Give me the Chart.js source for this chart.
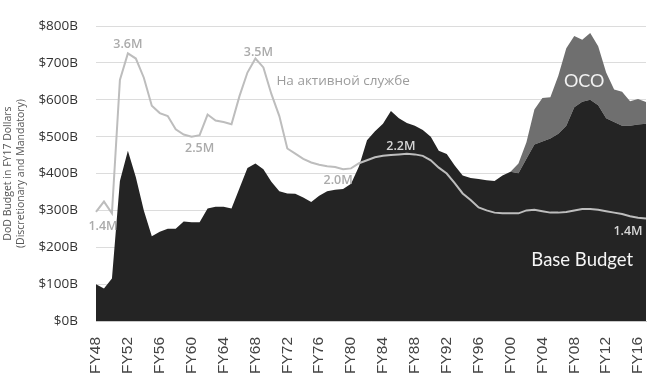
<!DOCTYPE html>
<html>
<head>
<meta charset="utf-8">
<script src="https://cdn.jsdelivr.net/npm/chart.js@4"></script>
<style>
  html, body { margin: 0; padding: 0; background: #fff; }
  #wrap { width: 656px; height: 376px; }
</style>
</head>
<body>
<div id="wrap"><canvas id="budget"></canvas></div>
<script>
// fiscal years FY48 .. FY17
const years = [];
for (let y = 1948; y <= 2017; y++) years.push("FY" + String(y).slice(2));

// DoD budget, $B in FY17 dollars
const baseBudget = [
  100, 88, 115, 380, 462, 390, 300, 230, 242, 250,
  250, 270, 268, 268, 305, 310, 310, 305, 360, 415,
  427, 412, 378, 352, 346, 345, 335, 323, 340, 352,
  356, 358, 372, 420, 490, 515, 535, 570, 550, 537,
  530, 518, 500, 462, 453, 422, 395, 388, 385, 382,
  380, 395, 405, 401, 440, 479, 487, 495, 508, 530,
  580, 595, 600, 585, 550, 540, 530, 530, 533, 535
];
const ocoBudget = [
  0, 0, 0, 0, 0, 0, 0, 0, 0, 0,
  0, 0, 0, 0, 0, 0, 0, 0, 0, 0,
  0, 0, 0, 0, 0, 0, 0, 0, 0, 0,
  0, 0, 0, 0, 0, 0, 0, 0, 0, 0,
  0, 0, 0, 0, 0, 0, 0, 0, 0, 0,
  0, 0, 0, 26, 45, 95, 118, 112, 157, 210,
  193, 168, 181, 160, 124, 88, 92, 66, 69, 59
];
// active duty personnel, millions
const activeDuty = [
  1.48, 1.62, 1.46, 3.27, 3.63, 3.56, 3.30, 2.92, 2.82, 2.78,
  2.60, 2.53, 2.50, 2.52, 2.80, 2.72, 2.70, 2.67, 3.05, 3.37,
  3.56, 3.44, 3.08, 2.78, 2.34, 2.27, 2.20, 2.15, 2.12, 2.10,
  2.09, 2.06, 2.07, 2.14, 2.18, 2.22, 2.24, 2.25, 2.26, 2.27,
  2.26, 2.24, 2.18, 2.08, 2.00, 1.87, 1.73, 1.64, 1.54, 1.50,
  1.47, 1.46, 1.46, 1.46, 1.50, 1.51, 1.49, 1.47, 1.47, 1.48,
  1.50, 1.52, 1.52, 1.51, 1.49, 1.47, 1.45, 1.42, 1.40, 1.39
];

// text notes: [text, year, value, axis, dx, dy, font, colour]
const notes = [
  ["3.6M", "FY52", 3.63, "y2", 0, -9, "600 12.5px 'Open Sans'", "#ababab"],
  ["1.4M", "FY48", 1.48, "y2", 7, 15, "600 12.5px 'Open Sans'", "#ababab"],
  ["2.5M", "FY60", 2.50, "y2", 8, 12, "600 12.5px 'Open Sans'", "#ababab"],
  ["3.5M", "FY68", 3.56, "y2", 3, -6, "600 12.5px 'Open Sans'", "#ababab"],
  ["2.0M", "FY78", 2.09, "y2", 3, 14, "600 12.5px 'Open Sans'", "#ababab"],
  ["2.2M", "FY87", 2.27, "y2", -6, -7, "600 12.5px 'Open Sans'", "#d6d6d6"],
  ["1.4M", "FY17", 1.39, "y2", -18, 13, "600 12.5px 'Open Sans'", "#d6d6d6"],
  ["На активной службе", "FY79", 3.25, "y2", 0, 0, "13.5px 'Liberation Sans Narrow', 'Open Sans'", "#9c9c9c"],
  ["OCO", "FY09", 650, "y", 2, 0, "18px Lato", "#f2f2f2"],
  ["Base Budget", "FY09", 165, "y", 0, 0, "18.5px Lato", "#f5f5f5"]
];

const notesPlugin = {
  id: "notes",
  afterDatasetsDraw(chart) {
    const ctx = chart.ctx;
    const xs = chart.scales.x;
    ctx.save();
    ctx.textAlign = "center";
    ctx.textBaseline = "middle";
    notes.forEach(([text, yr, val, axis, dx, dy, font, color]) => {
      const px = xs.getPixelForValue(years.indexOf(yr));
      const py = chart.scales[axis].getPixelForValue(val);
      ctx.font = font;
      ctx.fillStyle = color;
      ctx.fillText(text, px + dx, py + dy);
    });
    ctx.restore();
  },
};

const ctx = document.getElementById("budget").getContext("2d");

new Chart(ctx, {
  type: "line",
  data: {
    labels: years,
    datasets: [
      {
        label: "Active duty",
        data: activeDuty,
        yAxisID: "y2",
        borderColor: "#bdbdbd",
        borderWidth: 2,
        pointRadius: 0,
        fill: false,
        order: 0,
      },
      {
        label: "Base Budget",
        data: baseBudget,
        yAxisID: "y",
        borderWidth: 0,
        backgroundColor: "#242424",
        pointRadius: 0,
        fill: "origin",
        order: 1,
      },
      {
        label: "OCO",
        data: ocoBudget,
        yAxisID: "y",
        borderWidth: 0,
        backgroundColor: "#6f6f6f",
        pointRadius: 0,
        fill: "-1",
        order: 2,
      },
    ],
  },
  options: {
    responsive: true,
    maintainAspectRatio: false,
    animation: false,
    layout: {
      padding: { top: 14, right: 10, left: 0, bottom: 0 },
    },
    plugins: {
      legend: { display: false },
      tooltip: { enabled: false },
    },
    scales: {
      x: {
        grid: { display: false },
        border: { display: true, color: "#c8c8c8" },
        ticks: {
          autoSkip: false,
          maxRotation: 90,
          minRotation: 90,
          padding: 8,
          color: "#444",
          font: { family: "'Liberation Sans'", size: 15.5 },
          callback: (v, i) => (i % 4 === 0 ? years[i] : ""),
        },
        afterFit: (s) => {
          s.height = 55;
          s.paddingLeft = 0;
          s.paddingRight = 0;
        },
      },
      y: {
        stacked: true,
        min: 0,
        max: 800,
        grid: { color: "#dcdcdc", drawTicks: false },
        border: { display: false },
        ticks: {
          stepSize: 100,
          padding: 18,
          color: "#333",
          font: { family: "'Open Sans'", size: 13.5 },
          callback: (v) => "$" + v + "B",
        },
        title: {
          display: true,
          text: ["DoD Budget in FY17 Dollars", "(Discretionary and Mandatory)"],
          color: "#555",
          font: { family: "'Open Sans'", size: 10.5 },
          padding: { top: 2, bottom: 0 },
        },
        afterFit: (s) => { s.width = 96; },
      },
      y2: {
        display: false,
        min: 0,
        max: 4,
      },
    },
  },
  plugins: [notesPlugin],
});
</script>
</body>
</html>
